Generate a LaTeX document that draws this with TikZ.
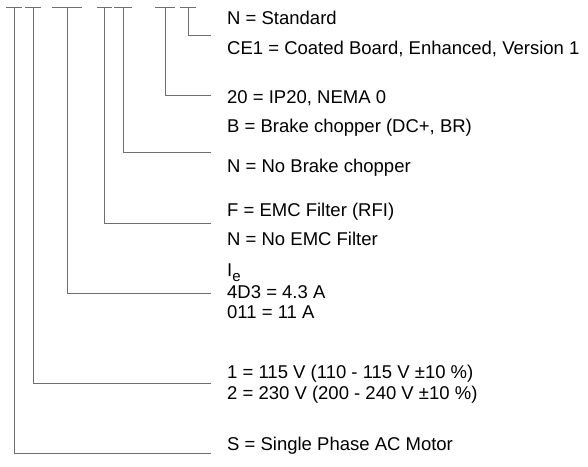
\documentclass[tikz,border=0pt]{standalone}
\usepackage{fontspec}
\setmainfont{Liberation Sans}
\begin{document}
\begin{tikzpicture}[x=1pt,y=-1pt,
  conn/.style={draw={rgb,255:red,110;green,110;blue,110},line width=0.85pt},
  lbl/.style={anchor=base west,inner sep=0pt,font=\fontsize{18.5}{21}\selectfont}]
\useasboundingbox (0,0) rectangle (588,466);
% top bars and branch points
\foreach \n/\x/\h/\y in {1/14/8/453, 2/33/8/383, 3/67/15/293, 4/104/7.5/223, 5/123/9/152, 6/165/10/95, 7/188/8/35} {
  \coordinate (top\n) at (\x,7);
  \coordinate (tl\n) at (\x-\h,7);
  \coordinate (tr\n) at (\x+\h,7);
  \coordinate (end\n) at (211,\y);
  \draw[conn] (tl\n) -- (tr\n);
  \draw[conn] (top\n) |- (end\n);
}
\node[lbl] (a1) at (227,24) {N = Standard};
\node[lbl] (a2) at (227,54) {CE1 = Coated Board, Enhanced, Version 1};
\node[lbl] (b1) at (227,103) {20 = IP20, NEMA 0};
\node[lbl] (c1) at (227,132) {B = Brake chopper (DC+, BR)};
\node[lbl] (c2) at (227,172) {N = No Brake chopper};
\node[lbl] (d1) at (227,216) {F = EMC Filter (RFI)};
\node[lbl] (d2) at (227,245) {N = No EMC Filter};
\node[lbl] (e0) at (227,276) {I\raisebox{-5.5pt}{\fontsize{15}{15}\selectfont e}};
\node[lbl] (e1) at (227,298) {4D3 = 4.3 A};
\node[lbl] (e2) at (227,318) {011 = 11 A};
\node[lbl] (f1) at (227,378) {1 = 115 V (110 - 115 V ±10 \%)};
\node[lbl] (f2) at (227,399) {2 = 230 V (200 - 240 V ±10 \%)};
\node[lbl] (g1) at (227,450) {S = Single Phase AC Motor};
\end{tikzpicture}
\end{document}
